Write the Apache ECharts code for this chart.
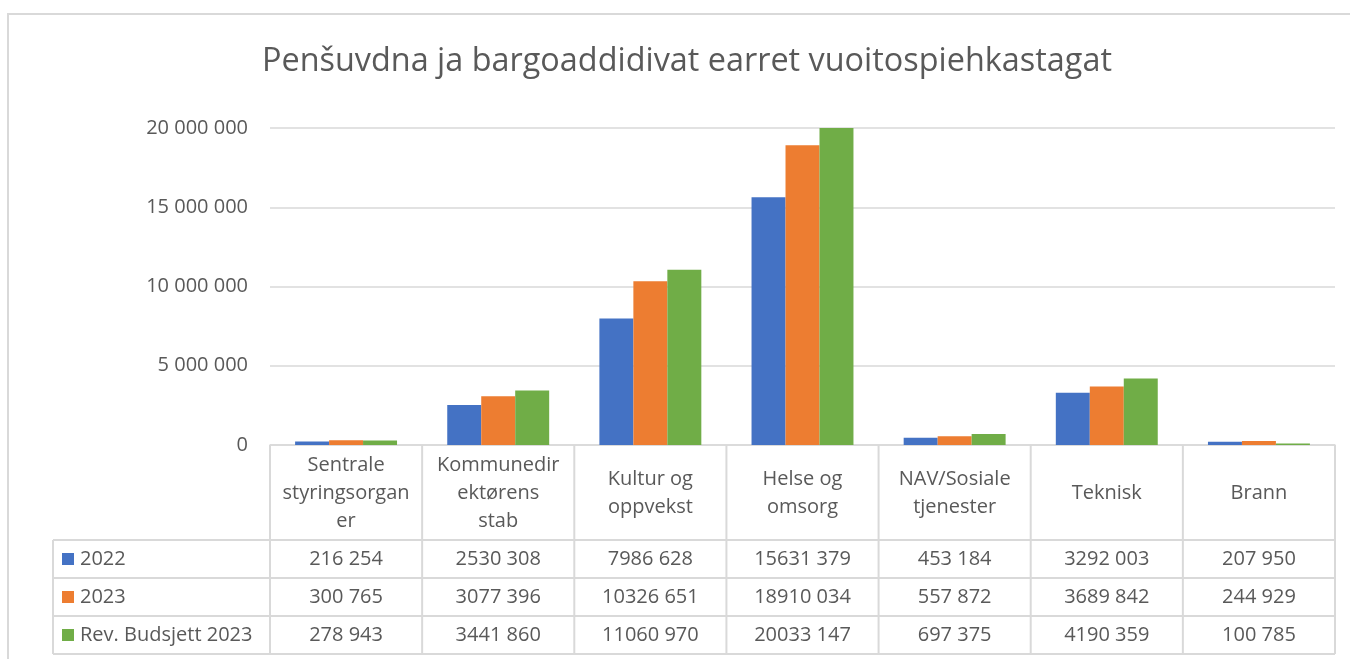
<!DOCTYPE html>
<html>
<head>
<meta charset="utf-8">
<script src="https://cdn.jsdelivr.net/npm/echarts@6/dist/echarts.min.js"></script>
<style>
  html, body { margin: 0; padding: 0; background: #fff; }
  #container { width: 1350px; height: 659px; }
</style>
</head>
<body>
<div id="container"></div>
<script>
var dom = document.getElementById('container');
var myChart = echarts.init(dom, null, { renderer: 'canvas' });

// data
const categories = ['Sentrale\nstyringsorgan\ner', 'Kommunedir\nektørens\nstab', 'Kultur og\noppvekst',
  'Helse og\nomsorg', 'NAV/Sosiale\ntjenester', 'Teknisk', 'Brann'];
const seriesNames = ['2022', '2023', 'Rev. Budsjett 2023'];
const values2022 = [216254, 2530308, 7986628, 15631379, 453184, 3292003, 207950];
const values2023 = [300765, 3077396, 10326651, 18910034, 557872, 3689842, 244929];
const valuesRev2023 = [278943, 3441860, 11060970, 20033147, 697375, 4190359, 100785];
const yTicks = [0, 5000000, 10000000, 15000000, 20000000];

const colors = ['#4472C4', '#ED7D31', '#70AD47'];
const textColor = '#595959';
const lineColor = '#d9d9d9';
const font = 'Open Sans';

// table layout
const gridLeft = 270, gridRight = 1335, axisY = 445;
const tableLeft = 53;
const rowLines = [540, 578, 616, 654];

function fmtTable(v) {
  var hi = Math.floor(v / 1000), lo = v % 1000;
  return hi + ' ' + String(lo).padStart(3, '0');
}
function fmtAxis(v) {
  return String(v).replace(/\B(?=(\d{3})+(?!\d))/g, ' ');
}

var allSeries = [values2022, values2023, valuesRev2023];

var option = {
  animation: false,
  textStyle: { fontFamily: font },
  title: {
    text: 'Penšuvdna ja bargoaddidivat earret vuoitospiehkastagat',
    left: 257,
    top: 41,
    textStyle: { fontFamily: font, fontSize: 32.4, fontWeight: 'normal', color: textColor }
  },
  grid: { left: gridLeft, right: 1350 - gridRight, top: 128, bottom: 659 - axisY },
  xAxis: {
    type: 'category',
    data: categories,
    axisTick: { show: false },
    axisLine: { lineStyle: { color: lineColor, width: 1.5 } },
    axisLabel: {
      color: textColor, fontSize: 20, fontFamily: font, lineHeight: 28,
      interval: 0, margin: 48, verticalAlign: 'middle', align: 'center'
    }
  },
  yAxis: {
    type: 'value',
    min: 0, max: 20000000, interval: 5000000,
    axisLine: { show: false },
    axisTick: { show: false },
    splitLine: { lineStyle: { color: lineColor, width: 1.5 } },
    axisLabel: {
      color: textColor, fontSize: 20, fontFamily: font, margin: 22,
      formatter: fmtAxis
    }
  },
  series: seriesNames.map(function (name, i) {
    return {
      name: name,
      type: 'bar',
      data: allSeries[i],
      itemStyle: { color: colors[i] },
      barGap: '0%',
      barCategoryGap: '33%',
      clip: true
    };
  })
};

myChart.setOption(option);

// build data table from the arrays
var g = [];
var colEdges = [];
for (var k = 0; k <= categories.length; k++) {
  colEdges.push(gridLeft + (gridRight - gridLeft) * k / categories.length);
}
g.push({ type: 'rect', shape: { x: 8, y: 14, width: 1400, height: 700 },
  style: { fill: 'none', stroke: lineColor, lineWidth: 2 }, silent: true });
rowLines.forEach(function (y) {
  g.push({ type: 'line', shape: { x1: tableLeft, y1: y, x2: gridRight, y2: y },
    style: { stroke: lineColor, lineWidth: 2 } });
});
g.push({ type: 'line', shape: { x1: tableLeft, y1: rowLines[0], x2: tableLeft, y2: rowLines[3] },
  style: { stroke: lineColor, lineWidth: 2 } });
colEdges.forEach(function (x) {
  g.push({ type: 'line', shape: { x1: x, y1: axisY, x2: x, y2: rowLines[3] },
    style: { stroke: lineColor, lineWidth: 2 } });
});
for (var r = 0; r < 3; r++) {
  var cy = (rowLines[r] + rowLines[r + 1]) / 2;
  g.push({ type: 'rect', shape: { x: 62, y: cy - 6, width: 12, height: 12 }, style: { fill: colors[r] } });
  g.push({ type: 'text', x: 80, y: cy, style: { text: seriesNames[r], fill: textColor,
    font: '20px "' + font + '"', verticalAlign: 'middle', align: 'left' } });
  for (var c = 0; c < categories.length; c++) {
    var cx = myChart.convertToPixel({ xAxisIndex: 0 }, c);
    g.push({ type: 'text', x: cx, y: cy, style: { text: fmtTable(allSeries[r][c]), fill: textColor,
      font: '20px "' + font + '"', verticalAlign: 'middle', align: 'center' } });
  }
}
myChart.setOption({ graphic: g });

window.addEventListener('resize', myChart.resize);
</script>
</body>
</html>
